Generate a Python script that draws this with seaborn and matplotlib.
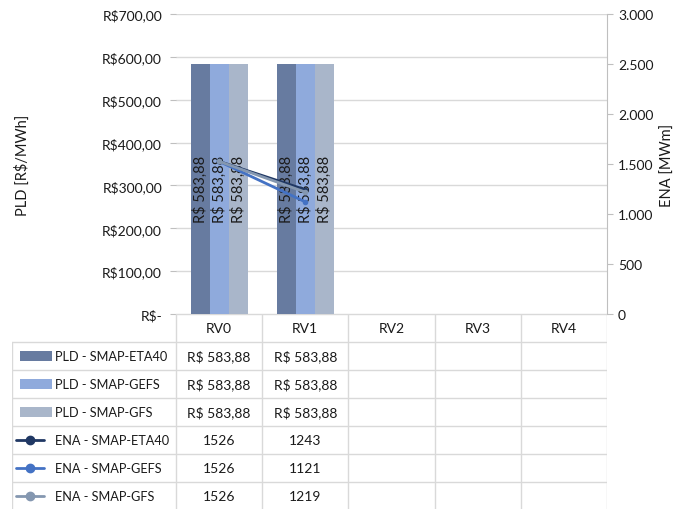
import seaborn as sns
import matplotlib.pyplot as plt
import pandas as pd
from matplotlib.patches import Rectangle

# data
categories = ["RV0", "RV1", "RV2", "RV3", "RV4"]
pld_series = ["PLD - SMAP-ETA40", "PLD - SMAP-GEFS", "PLD - SMAP-GFS"]
ena_series = ["ENA - SMAP-ETA40", "ENA - SMAP-GEFS", "ENA - SMAP-GFS"]
pld_eta40 = [583.88, 583.88, None, None, None]
pld_gefs = [583.88, 583.88, None, None, None]
pld_gfs = [583.88, 583.88, None, None, None]
ena_eta40 = [1526, 1243, None, None, None]
ena_gefs = [1526, 1121, None, None, None]
ena_gfs = [1526, 1219, None, None, None]

bar_colors = ["#677ba0", "#8faadc", "#a9b6ca"]
line_colors = ["#203864", "#4472c4", "#8497b0"]

sns.set_style("white")
plt.rcParams["font.family"] = ["Lato", "DejaVu Sans"]
grey = "#d9d9d9"
txt = "#1a1a1a"
fs = 10


def brl(v):
    return "R\\$ " + f"{v:.2f}".replace(".", ",")


pld_rows = []
for name, vals in zip(pld_series, [pld_eta40, pld_gefs, pld_gfs]):
    for c, v in zip(categories, vals):
        if v is not None:
            pld_rows.append({"cat": c, "serie": name, "pld": v})
pld_df = pd.DataFrame(pld_rows)

ena_rows = []
for name, vals in zip(ena_series, [ena_eta40, ena_gefs, ena_gfs]):
    for i, v in enumerate(vals):
        if v is not None:
            ena_rows.append({"pos": i, "serie": name, "ena": v})
ena_df = pd.DataFrame(ena_rows)

fig = plt.figure(figsize=(6.8, 5.1), dpi=100)
ax = fig.add_axes([176 / 680, 195 / 510, 431 / 680, 300 / 510])

sns.barplot(data=pld_df, x="cat", y="pld", hue="serie", order=categories,
            hue_order=pld_series, palette=bar_colors, width=0.66,
            saturation=1, errorbar=None, legend=False, linewidth=0,
            ax=ax, zorder=2)
for cont in ax.containers:
    ax.bar_label(cont, labels=[brl(v) for v in cont.datavalues],
                 label_type="center", rotation=90, fontsize=10.5, color=txt)

ax.set_xlim(-0.5, 4.5)
ax.set_ylim(0, 700)
ax.set_yticks(range(0, 701, 100))
ax.set_yticklabels(["R\\$-"] + ["R\\$" + f"{v},00" for v in range(100, 701, 100)],
                   fontsize=fs, color=txt)
ax.set_xticks([])
ax.set_xlabel("")
ax.set_ylabel("PLD [R\\$/MWh]", fontsize=10.5, color=txt)
ax.yaxis.set_label_coords(-0.339, 0.5)
ax.yaxis.grid(True, color=grey, lw=1, zorder=0)
ax.tick_params(axis="y", length=4, color="#bfbfbf", left=True, pad=6)
for s in ["left", "top", "right", "bottom"]:
    ax.spines[s].set_visible(False)

ax2 = ax.twinx()
sns.lineplot(data=ena_df, x="pos", y="ena", hue="serie", hue_order=ena_series,
             palette=line_colors, marker="o", markersize=4, markeredgewidth=0,
             linewidth=2, legend=False, ax=ax2)
ax2.set_xlim(-0.5, 4.5)
ax2.set_ylim(0, 3000)
ax2.set_yticks(range(0, 3001, 500))
ax2.set_yticklabels([f"{v:,}".replace(",", ".") for v in range(0, 3001, 500)],
                    fontsize=fs, color=txt)
ax2.set_ylabel("ENA [MWm]", fontsize=10.5, color=txt, rotation=90)
ax2.yaxis.set_label_coords(1.125, 0.5)
ax2.tick_params(axis="y", right=True, length=4, color="#bfbfbf", pad=4)
for s in ["left", "top", "bottom"]:
    ax2.spines[s].set_visible(False)
ax2.spines["right"].set_color("#bfbfbf")

# data table under the chart
xl = -0.5 - 164 / 86.2
tax = fig.add_axes([12 / 680, -1 / 510, 595 / 680, 196 / 510])
tax.set_xlim(xl, 4.5)
tax.set_ylim(7, 0)
tax.axis("off")

tax.plot([-0.5, 4.5], [0, 0], color=grey, lw=1)
for r in range(1, 8):
    tax.plot([xl, 4.5], [r, r], color=grey, lw=1)
for i in range(6):
    tax.plot([i - 0.5, i - 0.5], [0, 7], color=grey, lw=1)
tax.plot([xl, xl], [1, 7], color=grey, lw=1)

for i, c in enumerate(categories):
    tax.text(i, 0.5, c, ha="center", va="center", fontsize=fs, color=txt)

all_names = pld_series + ena_series
all_vals = [pld_eta40, pld_gefs, pld_gfs, ena_eta40, ena_gefs, ena_gfs]
for r, (name, vals) in enumerate(zip(all_names, all_vals), start=1):
    y = r + 0.5
    if r <= 3:
        tax.add_patch(Rectangle((xl + 0.093, y - 0.18), 0.371, 0.36,
                                color=bar_colors[r - 1], lw=0))
    else:
        col = line_colors[r - 4]
        tax.plot([xl + 0.046, xl + 0.371], [y, y], color=col, lw=2)
        tax.plot([xl + 0.2085], [y], "o", color=col, markersize=6)
    tax.text(xl + 0.5, y, name, ha="left", va="center", fontsize=9.2, color=txt)
    for i, v in enumerate(vals):
        if v is None:
            continue
        s = brl(v) if r <= 3 else str(v)
        tax.text(i, y, s, ha="center", va="center", fontsize=fs, color=txt)

fig.savefig("out.png", dpi=100)
